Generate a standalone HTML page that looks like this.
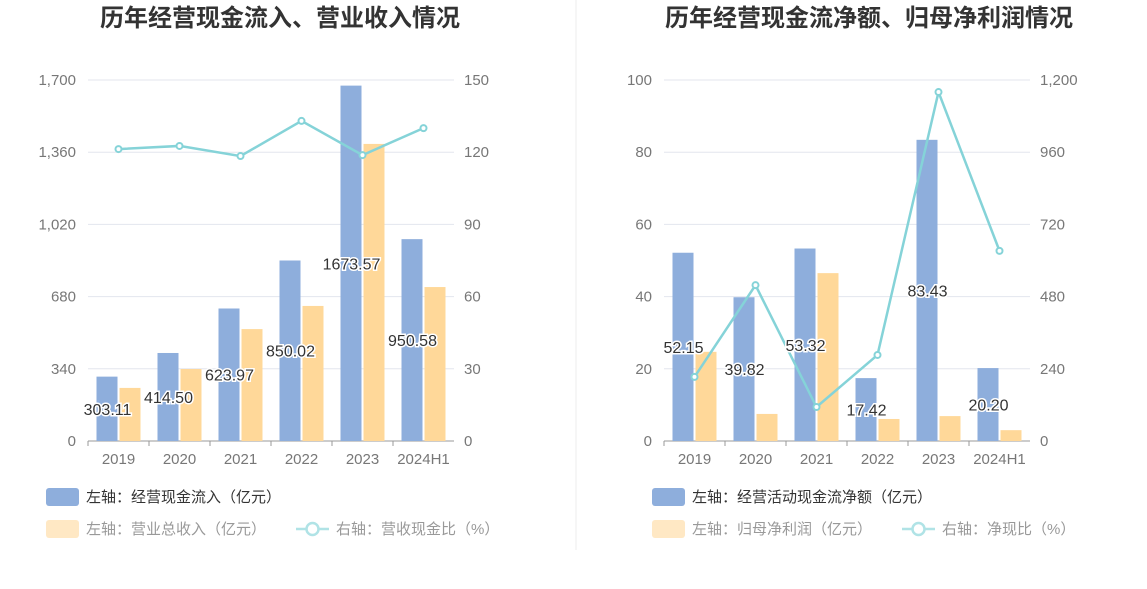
<!DOCTYPE html>
<html><head><meta charset="utf-8">
<style>
body{margin:0;background:#fff;}
svg{display:block;font-family:"Liberation Sans","Noto Sans CJK SC",sans-serif;}
</style></head>
<body>
<svg id="c" width="1147" height="589" viewBox="0 0 1147 589"></svg>
<script>
const categories = ["2019","2020","2021","2022","2023","2024H1"];
const leftBlue = [303.11,414.50,623.97,850.02,1673.57,950.58];
const leftOrange = [250,339,527,636,1399,725];
const leftLine = [121.3,122.6,118.4,133,118.8,130];
const leftTicks = [0,340,680,1020,1360,1700];
const leftRTicks = [0,30,60,90,120,150];
const rightBlue = [52.15,39.82,53.32,17.42,83.43,20.20];
const rightOrange = [24.7,7.5,46.5,6.1,6.9,3.0];
const rightLine = [213,518,113,286,1160,632];
const rightTicks = [0,20,40,60,80,100];
const rightRTicks = [0,240,480,720,960,1200];

const NS="http://www.w3.org/2000/svg";
const svg=document.getElementById('c');
function mk(tag,attrs,parent){const e=document.createElementNS(NS,tag);for(const k in attrs)e.setAttribute(k,attrs[k]);(parent||svg).appendChild(e);return e;}
function fmt(v){return v>=1000?v.toLocaleString('en-US'):String(v);}

function chart(o){
  const g=mk('g',{});
  
  
  const top=80,bot=441,x0=o.x0,x1=o.x0+366;
  const yL=v=>bot-(v/o.lmax)*(bot-top);
  const yR=v=>bot-(v/o.rmax)*(bot-top);
  const step=(x1-x0)/categories.length;
  const cx=i=>x0+step*(i+0.5);
  const t=mk('text',{x:o.tx,y:26,'text-anchor':'middle','font-size':24,'font-weight':'bold',fill:'#333'},g);
  t.textContent=o.title;
  
  
  o.lt.forEach((v,i)=>{
    const y=yL(v);
    if(i>0){const l=mk('line',{x1:x0,x2:x1,y1:y,y2:y,stroke:'#e3e6ee'},g);}
    const a=mk('text',{x:x0-12,y:y+5,'text-anchor':'end','font-size':15,fill:'#777'},g);a.textContent=fmt(v);
    
    const b=mk('text',{x:x1+10,y:y+5,'text-anchor':'start','font-size':15,fill:'#777'},g);b.textContent=fmt(o.rt[i]);
    
  });
  const ax=mk('line',{x1:x0,x2:x1,y1:bot,y2:bot,stroke:'#999'},g);
  
  categories.forEach((c,i)=>{
    const x=cx(i);
    const bw=21;
    const yb=yL(o.blue[i]);
    const r=mk('rect',{x:x-bw-1,y:yb,width:bw,height:bot-yb,fill:'#8eaedc'},g);
    
    const yo=yL(o.orange[i]);
    const r2=mk('rect',{x:x+1,y:yo,width:bw,height:bot-yo,fill:'#ffd899'},g);
    
    const tk=mk('line',{x1:x0+step*i,x2:x0+step*i,y1:bot,y2:bot+5,stroke:'#999'},g);
    
    const lt=mk('text',{x:x,y:464,'text-anchor':'middle','font-size':15,fill:'#777'},g);lt.textContent=c;
    
  });
  const pts=o.line.map((v,i)=>cx(i)+','+yR(v)).join(' ');
  const pl=mk('polyline',{points:pts,fill:'none',stroke:'#85d3d8','stroke-width':2.5},g);
  
  o.line.forEach((v,i)=>{const p=mk('circle',{cx:cx(i),cy:yR(v),r:3,fill:'#fff',stroke:'#85d3d8','stroke-width':2},g);
    });
  categories.forEach((c,i)=>{
    const x=cx(i)-11, y=(yL(o.blue[i])+bot)/2+6;
    const l=mk('text',{x:x,y:y,'text-anchor':'middle','font-size':16,fill:'#333',stroke:'#fff','stroke-width':3,'paint-order':'stroke'},g);
    l.textContent=o.blue[i].toFixed(2);
    
  });
  const L=(x,y,kind,txt,col)=>{
    const lg=mk('g',{},g);
    
    if(kind==='rect'){mk('rect',{x:x,y:y-9,width:33,height:18,rx:3,fill:col},lg);}
    else{mk('line',{x1:x,x2:x+33,y1:y,y2:y,stroke:'#b0e3e6','stroke-width':2.5},lg);mk('circle',{cx:x+16.5,cy:y,r:6,fill:'#fff',stroke:'#b0e3e6','stroke-width':2.5},lg);}
    const tt=mk('text',{x:x+40,y:y+5,'font-size':15,fill:col==='#8eaedc'?'#333':'#999'},lg);tt.textContent=txt;
  };
  L(o.lx,497,'rect',o.leg[0],'#8eaedc');
  L(o.lx,529,'rect',o.leg[1],'#ffe8c4');
  L(o.lx+o.l3,529,'line',o.leg[2]);
}
chart({name:'left-chart',x0:88,tx:280,title:'历年经营现金流入、营业收入情况',lmax:1700,rmax:150,lt:leftTicks,rt:leftRTicks,blue:leftBlue,orange:leftOrange,line:leftLine,lx:46,l3:250,leg:['左轴：经营现金流入（亿元）','左轴：营业总收入（亿元）','右轴：营收现金比（%）']});
chart({name:'right-chart',x0:664,tx:869,title:'历年经营现金流净额、归母净利润情况',lmax:100,rmax:1200,lt:rightTicks,rt:rightRTicks,blue:rightBlue,orange:rightOrange,line:rightLine,lx:652,l3:250,leg:['左轴：经营活动现金流净额（亿元）','左轴：归母净利润（亿元）','右轴：净现比（%）']});
const d=mk('line',{x1:576,x2:576,y1:0,y2:550,stroke:'#eee'});

</script>
</body></html>
